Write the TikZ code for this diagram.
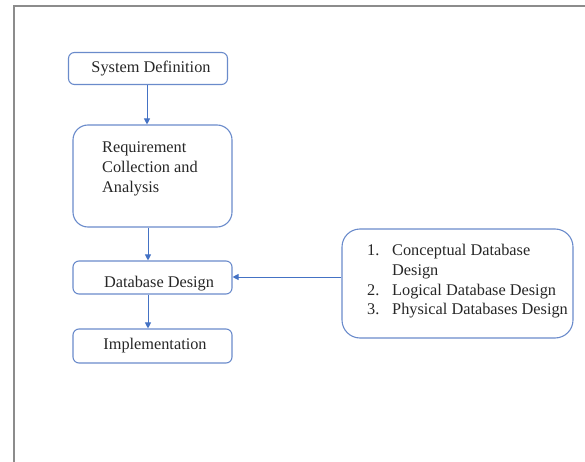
\documentclass[tikz,border=0pt]{standalone}
\usepackage{fontspec}
\setmainfont{Liberation Serif}
\usetikzlibrary{arrows.meta}
\definecolor{flowblue}{HTML}{4472C4}
\definecolor{boxblue}{HTML}{6A8BCB}
\definecolor{framegray}{HTML}{8C8C8C}
\begin{document}
\begin{tikzpicture}[x=1pt,y=-1pt,
  box/.style={draw=boxblue,line width=1.1pt,inner sep=0pt},
  txt/.style={inner sep=0pt,font=\rmfamily\fontsize{16.3}{20}\selectfont,text=black!85},
  flow/.style={draw=flowblue,line width=0.9pt,-{Triangle[width=6pt,length=6pt]}}]
  \useasboundingbox (0,0) rectangle (585,462);
  % page frame
  \draw[framegray,line width=2pt] (14,462) -- (14,6) -- (585,6);

  % process boxes
  \node[box,rounded corners=6pt,minimum width=159pt,minimum height=32pt] (sysdef) at (148,68.5) {};
  \node[box,rounded corners=15pt,minimum width=159pt,minimum height=102pt] (req) at (152.5,176) {};
  \node[box,rounded corners=6pt,minimum width=159pt,minimum height=33pt] (dbd) at (152.5,277.5) {};
  \node[box,rounded corners=6pt,minimum width=159pt,minimum height=34pt] (impl) at (152.5,346) {};
  \node[box,rounded corners=18pt,minimum width=231pt,minimum height=109pt] (phases) at (457.5,283.5) {};

  % labels
  \node[txt,anchor=base] (tsys) at (151,73) {System Definition};
  \node[txt,anchor=base west] (treq1) at (102,153) {Requirement};
  \node[txt,anchor=base west] (treq2) at (102,173) {Collection and};
  \node[txt,anchor=base west] (treq3) at (102,193) {Analysis};
  \node[txt,anchor=base] (tdbd) at (159,287) {Database Design};
  \node[txt,anchor=base] (timpl) at (155,349) {Implementation};

  % numbered design phases
  \node[txt,anchor=base west] (n1) at (367,255) {1.};
  \node[txt,anchor=base west] (l1a) at (392,255) {Conceptual Database};
  \node[txt,anchor=base west] (l1b) at (392,275) {Design};
  \node[txt,anchor=base west] (n2) at (367,295) {2.};
  \node[txt,anchor=base west] (l2) at (392,295) {Logical Database Design};
  \node[txt,anchor=base west] (n3) at (367,314) {3.};
  \node[txt,anchor=base west] (l3) at (392,314) {Physical Databases Design};

  % connectors
  \draw[flow] (sysdef.south -| 147,0) -- (req.north -| 147,0);
  \draw[flow] (req.south -| 148,0) -- (dbd.north -| 148,0);
  \draw[flow] (dbd.south -| 148,0) -- (impl.north -| 148,0);
  \draw[flow] (phases.west |- 0,277) -- (dbd.east |- 0,277);
\end{tikzpicture}
\end{document}
